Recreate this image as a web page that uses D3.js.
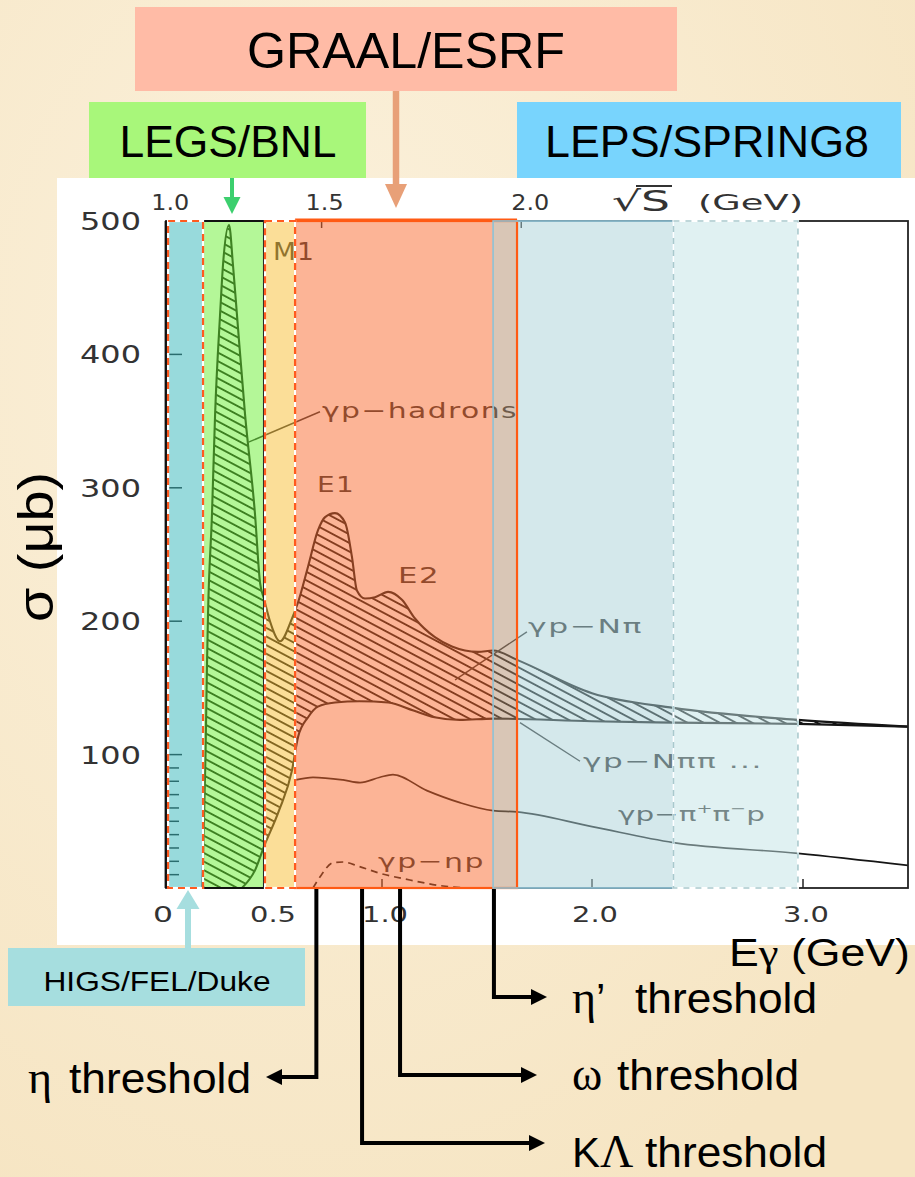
<!DOCTYPE html>
<html>
<head>
<meta charset="utf-8">
<script src="https://cdn.jsdelivr.net/npm/d3@7"></script>
<style>
  body { margin: 0; background: #f8eacc; }
  svg { display: block; }
  text { font-family: "Liberation Sans", Arial, sans-serif; }
  .fig { font-family: "DejaVu Sans", sans-serif; fill: #2b2b2b; }
  .ax { font-family: "DejaVu Sans", sans-serif; fill: #333; }
  .gr { font-family: "Liberation Serif", "Times New Roman", serif; }
</style>
</head>
<body>
<svg id="chart" width="915" height="1177"></svg>
<script>
// photon energy E (GeV) vs cross section (μb)
const hadrons = [
  [0.175, 0], [0.19, 100], [0.197, 167], [0.202, 205], [0.221, 280], [0.236, 355],
  [0.26, 430], [0.274, 467], [0.303, 497], [0.322, 467], [0.341, 430], [0.38, 355],
  [0.428, 280], [0.452, 229], [0.471, 217], [0.5, 200], [0.545, 185], [0.598, 202],
  [0.625, 214], [0.67, 241], [0.714, 268], [0.746, 278], [0.79, 281], [0.835, 274],
  [0.866, 248], [0.888, 223], [0.924, 217], [0.969, 218], [1.029, 222], [1.095, 216],
  [1.157, 202], [1.252, 188], [1.333, 181], [1.457, 177], [1.529, 178], [1.643, 171],
  [2.0, 146], [2.386, 135], [2.976, 126], [3.5, 121]
];
const nPiPi = [
  [0.365, 0], [0.43, 14], [0.471, 31], [0.54, 58], [0.598, 88], [0.625, 113],
  [0.67, 128], [0.714, 136], [0.79, 139], [0.9, 140], [1.03, 139], [1.15, 133],
  [1.25, 128], [1.37, 126], [1.53, 127], [2.0, 125], [2.386, 124], [2.976, 123], [3.5, 121]
];
const piPiP = [
  [0.615, 81], [0.692, 83], [0.826, 81], [0.902, 79], [0.991, 83], [1.052, 85],
  [1.214, 73], [1.371, 64], [1.529, 58], [1.643, 57], [2.0, 46], [2.386, 34],
  [2.976, 26], [3.5, 17]
];
const etaP = [
  [0.692, 0], [0.73, 10], [0.781, 19], [0.826, 19.5], [0.9, 16], [0.991, 11],
  [1.133, 6], [1.29, 1.5], [1.4, 0]
];

const xTicks = [0, 0.5, 1.0, 2.0, 3.0];
const xTickLabels = ["0", "0.5", "1.0", "2.0", "3.0"];
const yTicks = [100, 200, 300, 400, 500];
const yMinor = [10, 20, 30, 40, 50, 60, 70, 80, 90];
const sqrtSTicks = [1.0, 1.5, 2.0];
const sqrtSLabels = ["1.0", "1.5", "2.0"];

const facilities = ["HIGS", "LEGS", "M1", "GRAAL", "GRAAL+LEPS", "LEPS", "LEPS2"];
const facilityLow = [0.01, 0.178, 0.476, 0.612, 1.529, 1.643, 2.386];
const facilityHigh = [0.178, 0.471, 0.612, 1.529, 1.643, 2.386, 2.976];

const thresholdNames = ["η", "KΛ", "ω", "η’"];
const thresholdE = [0.707, 0.911, 1.086, 1.533];

const mp = 0.938;
const eFromSqrtS = (w) => (w * w - mp * mp) / (2 * mp);

const svg = d3.select("#chart");
const defs = svg.append("defs");

// parchment background
const bg = defs.append("radialGradient").attr("id", "bg").attr("cx", "35%").attr("cy", "30%").attr("r", "80%");
bg.append("stop").attr("offset", "0%").attr("stop-color", "#fbf1dc");
bg.append("stop").attr("offset", "100%").attr("stop-color", "#f6e5c3");
svg.append("rect").attr("width", 915).attr("height", 1177).attr("fill", "url(#bg)");

// white figure panel
svg.append("rect").attr("x", 57).attr("y", 178).attr("width", 858).attr("height", 767).attr("fill", "#fff");

const x = d3.scaleLinear().domain([0, 0.5, 1, 2, 3, 3.5]).range([166, 270, 382, 592, 803, 908]);
const y = d3.scaleLinear().domain([0, 500]).range([888, 221]);

const line = d3.line().x((d) => x(d[0])).y((d) => y(d[1])).curve(d3.curveMonotoneX);
const area = d3.area().x((d) => x(d[0])).y0(y(0)).y1((d) => y(d[1])).curve(d3.curveMonotoneX);

// hatching between total and N-pi-pi curves
const pat = defs.append("pattern").attr("id", "hatch").attr("patternUnits", "userSpaceOnUse")
  .attr("width", 10).attr("height", 7.6).attr("patternTransform", "rotate(28)");
pat.append("line").attr("x1", 0).attr("x2", 10).attr("y1", 3.8).attr("y2", 3.8)
  .attr("stroke", "#111").attr("stroke-width", 1.9);

const mask = defs.append("mask").attr("id", "hmask").attr("maskUnits", "userSpaceOnUse")
  .attr("x", 0).attr("y", 0).attr("width", 915).attr("height", 1177);
mask.append("path").attr("d", area(hadrons)).attr("fill", "#fff");
mask.append("path").attr("d", area(nPiPi)).attr("fill", "#000");

svg.append("rect").attr("x", x(0)).attr("y", y(500)).attr("width", x(3.5) - x(0)).attr("height", y(0) - y(500))
  .attr("fill", "url(#hatch)").attr("mask", "url(#hmask)");

const curves = svg.append("g").attr("fill", "none").attr("stroke", "#151515");
curves.append("path").attr("d", line(hadrons)).attr("stroke-width", 2.1);
curves.append("path").attr("d", line(nPiPi)).attr("stroke-width", 2.1);
curves.append("path").attr("d", line(piPiP)).attr("stroke-width", 1.7);
curves.append("path").attr("d", line(etaP)).attr("stroke-width", 1.7).attr("stroke-dasharray", "7,5");

// frame and ticks
svg.append("rect").attr("x", x(0)).attr("y", y(500)).attr("width", x(3.5) - x(0)).attr("height", y(0) - y(500))
  .attr("fill", "none").attr("stroke", "#222").attr("stroke-width", 1.8);
svg.append("line").attr("x1", x(0)).attr("x2", x(0)).attr("y1", y(500)).attr("y2", y(0))
  .attr("stroke", "#111").attr("stroke-width", 2.8);

const ticks = svg.append("g").attr("stroke", "#222").attr("stroke-width", 1.5);
yTicks.slice(0, 4).forEach((v) => {
  ticks.append("line").attr("x1", x(0)).attr("x2", x(0) + 16).attr("y1", y(v)).attr("y2", y(v));
});
yMinor.forEach((v) => {
  ticks.append("line").attr("x1", x(0)).attr("x2", x(0) + 13).attr("y1", y(v)).attr("y2", y(v));
});
xTicks.slice(2).forEach((v) => {
  ticks.append("line").attr("x1", x(v)).attr("x2", x(v)).attr("y1", y(0)).attr("y2", y(0) - 9);
});
sqrtSTicks.slice(1).forEach((v) => {
  ticks.append("line").attr("x1", x(eFromSqrtS(v))).attr("x2", x(eFromSqrtS(v))).attr("y1", y(500)).attr("y2", y(500) + 7);
});

// labels inside the figure
const figLab = (txt, tx, ty, w, size) =>
  svg.append("text").attr("class", "fig").attr("x", tx).attr("y", ty).attr("font-size", size)
    .attr("letter-spacing", 1).attr("textLength", w).attr("lengthAdjust", "spacingAndGlyphs").text(txt);
figLab("M1", 273, 260, 42, 24);
figLab("γp−hadrons", 322, 418, 196, 21);
figLab("E1", 317, 492, 38, 21);
figLab("E2", 398, 583, 42, 21);
figLab("γp−Nπ", 528, 633, 115, 20);
figLab("γp−Nππ ...", 583, 768, 180, 20);
figLab("γp−ηp", 378, 868, 107, 20);
const pp = svg.append("text").attr("class", "fig").attr("x", 618).attr("y", 821).attr("font-size", 20)
  .attr("textLength", 147).attr("lengthAdjust", "spacingAndGlyphs");
pp.append("tspan").text("γp−π");
pp.append("tspan").attr("dy", -8).attr("font-size", 13).text("+");
pp.append("tspan").attr("dy", 8).text("π");
pp.append("tspan").attr("dy", -8).attr("font-size", 13).text("−");
pp.append("tspan").attr("dy", 8).text("p");

// leader lines (data coordinates)
const leaders = [
  [[0.394, 334], [0.723, 357]],
  [[1.348, 156], [1.69, 192]],
  [[1.657, 124], [1.943, 95]]
];
leaders.forEach((l) => {
  svg.append("line").attr("x1", x(l[0][0])).attr("y1", y(l[0][1])).attr("x2", x(l[1][0])).attr("y2", y(l[1][1]))
    .attr("stroke", "#2a2a2a").attr("stroke-width", 1.4);
});

// facility bands (translucent overlays)
const bandColor = {
  HIGS: "#31b5b9", LEGS: "#69ef31", M1: "#f7bd31", GRAAL: "#f9692d",
  "GRAAL+LEPS": "#b38d6d", LEPS: "#a9d1d7", LEPS2: "#c1e3e5"
};
facilities.forEach((f, i) => {
  svg.append("rect").attr("x", x(facilityLow[i])).attr("y", y(500))
    .attr("width", x(facilityHigh[i]) - x(facilityLow[i])).attr("height", y(0) - y(500))
    .attr("fill", bandColor[f]).attr("fill-opacity", 0.5);
});

const border = (lo, hi, stroke, width, dash) =>
  svg.append("rect").attr("x", x(lo)).attr("y", y(500)).attr("width", x(hi) - x(lo)).attr("height", y(0) - y(500))
    .attr("fill", "none").attr("stroke", stroke).attr("stroke-width", width)
    .attr("stroke-dasharray", dash || null);
// GRAAL
border(facilityLow[3], facilityHigh[4], "#ff5a14", 2.2);
svg.append("line").attr("x1", x(facilityLow[3])).attr("x2", x(facilityHigh[4])).attr("y1", y(500) - 1).attr("y2", y(500) - 1)
  .attr("stroke", "#ff5a14").attr("stroke-width", 3);
// LEPS
border(facilityLow[4], facilityHigh[5], "#8ec2d6", 1.6);
border(facilityLow[6], facilityHigh[6], "#fff", 2);
border(facilityLow[6], facilityHigh[6], "#a9c9cd", 1.6, "6,6");
// LEGS
border(facilityLow[1], facilityHigh[1], "#111", 2);
// HIGS and M1 dashed
[0, 2].forEach((i) => {
  border(facilityLow[i], facilityHigh[i], "#fff", 2.2);
  border(facilityLow[i], facilityHigh[i], "#ff5a1f", 2.2, "7,5");
});

// axis tick labels
yTicks.forEach((v) => {
  svg.append("text").attr("class", "ax").attr("x", 141).attr("y", y(v) + 9).attr("font-size", 24)
    .attr("text-anchor", "end").attr("textLength", 61).attr("lengthAdjust", "spacingAndGlyphs").text(v);
});
xTicks.forEach((v, i) => {
  svg.append("text").attr("class", "ax").attr("x", x(v) + (i === 0 ? -3 : 3)).attr("y", 922).attr("font-size", 21)
    .attr("text-anchor", "middle").attr("textLength", i === 0 ? 20 : 46)
    .attr("lengthAdjust", "spacingAndGlyphs").text(xTickLabels[i]);
});
const sqrtDx = [-9, 3, 9];
sqrtSTicks.forEach((v, i) => {
  svg.append("text").attr("class", "ax").attr("x", x(eFromSqrtS(v)) + sqrtDx[i]).attr("y", 210).attr("font-size", 21)
    .attr("text-anchor", "middle").attr("textLength", 38).attr("lengthAdjust", "spacingAndGlyphs").text(sqrtSLabels[i]);
});
svg.append("text").attr("class", "ax").attr("x", 612).attr("y", 211).attr("font-size", 28)
  .attr("textLength", 58).attr("lengthAdjust", "spacingAndGlyphs").text("√S");
svg.append("line").attr("x1", 636).attr("x2", 672).attr("y1", 186).attr("y2", 186).attr("stroke", "#333").attr("stroke-width", 2);
svg.append("text").attr("class", "ax").attr("x", 698).attr("y", 210).attr("font-size", 21)
  .attr("textLength", 105).attr("lengthAdjust", "spacingAndGlyphs").text("(GeV)");

// axis titles
svg.append("text").attr("transform", "translate(53,547) rotate(-90)").attr("text-anchor", "middle")
  .attr("font-size", 50).attr("textLength", 150).attr("lengthAdjust", "spacingAndGlyphs").text("σ (μb)");
const eg = svg.append("text").attr("x", 729).attr("y", 966).attr("font-size", 38)
  .attr("textLength", 181).attr("lengthAdjust", "spacingAndGlyphs");
eg.append("tspan").text("E");
eg.append("tspan").attr("class", "gr").text("γ");
eg.append("tspan").text(" (GeV)");

// arrow head helper
const head = (tx, ty, dir, len, w, color) => {
  let pts;
  if (dir === "down") pts = [[tx, ty], [tx - w / 2, ty - len], [tx + w / 2, ty - len]];
  if (dir === "up") pts = [[tx, ty], [tx - w / 2, ty + len], [tx + w / 2, ty + len]];
  if (dir === "left") pts = [[tx, ty], [tx + len, ty - w / 2], [tx + len, ty + w / 2]];
  if (dir === "right") pts = [[tx, ty], [tx - len, ty - w / 2], [tx - len, ty + w / 2]];
  svg.append("polygon").attr("points", pts.map((p) => p.join(",")).join(" ")).attr("fill", color);
};

// facility boxes
const box = (bx, by, bw, bh, fill, label, cx, base, size, tl) => {
  svg.append("rect").attr("x", bx).attr("y", by).attr("width", bw).attr("height", bh).attr("fill", fill);
  svg.append("text").attr("x", cx).attr("y", base).attr("font-size", size).attr("text-anchor", "middle")
    .attr("textLength", tl).attr("lengthAdjust", "spacingAndGlyphs").attr("fill", "#000").text(label);
};
box(135, 7, 542, 84, "#ffbba6", "GRAAL/ESRF", 406, 68, 50, 318);
box(89, 102, 277, 76, "#a8f77a", "LEGS/BNL", 228, 157, 45, 217);
box(517, 102, 384, 76, "#78d4fd", "LEPS/SPRING8", 707, 157, 45, 324);
box(8, 948, 297, 58, "#a6dedf", "HIGS/FEL/Duke", 157, 991, 28, 227);

// facility arrows
svg.append("line").attr("x1", 396).attr("x2", 396).attr("y1", 91).attr("y2", 188).attr("stroke", "#e8a078").attr("stroke-width", 6.5);
head(396, 208, "down", 24, 22, "#e8a078");
svg.append("line").attr("x1", 232).attr("x2", 232).attr("y1", 178).attr("y2", 200).attr("stroke", "#3ccf6e").attr("stroke-width", 4);
head(232, 214, "down", 17, 17, "#3ccf6e");
svg.append("line").attr("x1", 188).attr("x2", 188).attr("y1", 948).attr("y2", 905).attr("stroke", "#a6dedf").attr("stroke-width", 6);
head(188, 890, "up", 19, 23, "#a6dedf");

// threshold arrows
const turnY = [1077, 1143, 1075, 997];
const tipX = [266, 545, 537, 547];
thresholdE.forEach((e, i) => {
  const tx = x(e);
  const dir = tipX[i] < tx ? "left" : "right";
  const endX = dir === "left" ? tipX[i] + 14 : tipX[i] - 14;
  svg.append("path").attr("d", `M${tx},${y(0) + 1}V${turnY[i]}H${endX}`)
    .attr("fill", "none").attr("stroke", "#000").attr("stroke-width", 4);
  head(tipX[i], turnY[i], dir, 16, 16, "#000");
});

// threshold labels
const thLab = (gx, txx, base, greekParts) => {
  const g = svg.append("text").attr("x", gx).attr("y", base).attr("font-size", 42);
  greekParts.forEach((p) => g.append("tspan").attr("class", p[1] ? "gr" : null)
    .attr("font-size", p[1] ? 46 : 42).text(p[0]));
  svg.append("text").attr("x", txx).attr("y", base).attr("font-size", 42)
    .attr("textLength", 182).attr("lengthAdjust", "spacingAndGlyphs").text("threshold");
};
thLab(28, 69, 1093, [[thresholdNames[0], true]]);
thLab(572, 645, 1167, [["K", false], ["Λ", true]]);
thLab(572, 617, 1090, [[thresholdNames[2], true]]);
thLab(572, 635, 1013, [["η", true], ["’", false]]);
</script>
</body>
</html>
